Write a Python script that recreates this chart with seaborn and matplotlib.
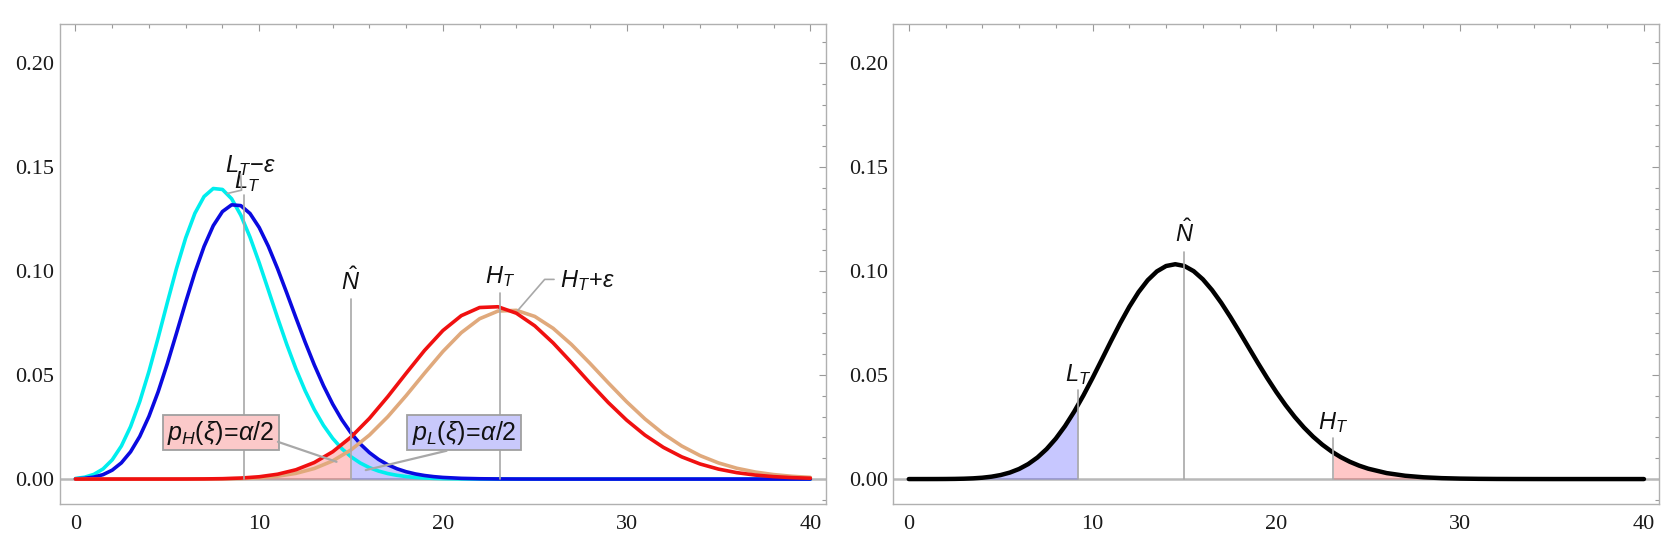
import numpy as np
import matplotlib.pyplot as plt
import matplotlib.patches as mpatches
from matplotlib.ticker import MultipleLocator, FormatStrFormatter
import seaborn as sns

sns.set_theme(style="white")
plt.rcParams["mathtext.fontset"] = "custom"
plt.rcParams["mathtext.it"] = "Liberation Sans:italic"
plt.rcParams["mathtext.rm"] = "Liberation Sans"
plt.rcParams["mathtext.bf"] = "Liberation Sans:bold"

# thresholds
L_T = 9.2
H_T = 23.1
N_HAT = 15.0

# left panel: curves for L_T - eps (cyan), L_T (blue), H_T (red), H_T + eps (tan)
x_narrow = np.concatenate([np.arange(0, 20.5, 0.5), np.arange(21, 41)])
cyan_vals = [0.000275, 0.000887, 0.002252, 0.004851, 0.009234, 0.015912, 0.025239, 0.037280,
             0.051740, 0.067932, 0.084853, 0.101281, 0.115966, 0.127770, 0.135846, 0.139695,
             0.139242, 0.134765, 0.126865, 0.116323, 0.104029, 0.090843, 0.077549, 0.064775,
             0.052992, 0.042492, 0.033426, 0.025810, 0.019578, 0.014596, 0.010703, 0.007722,
             0.005485, 0.003838, 0.002646, 0.001798, 0.001205, 0.000797, 0.000520, 0.000335,
             0.000213,
             0.000083, 0.000031, 0.000011, 0, 0, 0, 0, 0, 0, 0, 0, 0, 0, 0, 0, 0, 0, 0, 0, 0]
blue_vals = [0.000101, 0.000346, 0.000930, 0.002121, 0.004276, 0.007805, 0.013113, 0.020517,
             0.030160, 0.041946, 0.055494, 0.070164, 0.085091, 0.099309, 0.111834, 0.121819,
             0.128609, 0.131851, 0.131467, 0.127687, 0.120950, 0.111878, 0.101158, 0.089502,
             0.077555, 0.065874, 0.054885, 0.044892, 0.036067, 0.028483, 0.022121, 0.016906,
             0.012720, 0.009426, 0.006884, 0.004956, 0.003518, 0.002464, 0.001704, 0.001163,
             0.000784,
             0.000343, 0.000144, 0.000057, 0.000022, 0.000008, 0, 0, 0, 0, 0, 0, 0, 0, 0, 0,
             0, 0, 0, 0, 0]

x_wide = np.arange(0, 41)
red_vals = [0, 0, 0, 0, 0.000001, 0.000005, 0.000020, 0.000065, 0.000187, 0.000479,
            0.001107, 0.002324, 0.004474, 0.007950, 0.013117, 0.020200, 0.029163, 0.039627,
            0.050855, 0.061829, 0.071412, 0.078553, 0.082481, 0.082840, 0.079734, 0.073674,
            0.065457, 0.056002, 0.046202, 0.036802, 0.028338, 0.021116, 0.015243, 0.010670,
            0.007249, 0.004785, 0.003070, 0.001917, 0.001165, 0.000690, 0.000399]
tan_vals = [0, 0, 0, 0, 0, 0, 0.000009, 0.000032, 0.000096, 0.000258,
            0.000622, 0.001363, 0.002737, 0.005074, 0.008734, 0.014033, 0.021138, 0.029966,
            0.040121, 0.050890, 0.061323, 0.070375, 0.077093, 0.080780, 0.081117, 0.078197,
            0.072483, 0.064698, 0.055687, 0.046278, 0.037177, 0.028902, 0.021767, 0.015896,
            0.011268, 0.007759, 0.005194, 0.003383, 0.002146, 0.001326, 0.000799]

# right panel: curve for N-hat
x_mid = np.concatenate([np.arange(0, 25.5, 0.5), np.arange(26, 41)])
black_vals = [0.0000003, 0.0000013, 0.0000046, 0.0000134, 0.0000344, 0.0000802, 0.000172,
              0.000344, 0.000645, 0.001146, 0.001936, 0.003125, 0.004840, 0.007212, 0.010371,
              0.014424, 0.019445, 0.025453, 0.032409, 0.040190, 0.048613, 0.057414, 0.066290,
              0.074887, 0.082863, 0.089865, 0.095611, 0.099850, 0.102436, 0.103293, 0.102436,
              0.099961, 0.096034, 0.090874, 0.084736, 0.077892, 0.070613, 0.063155, 0.055747,
              0.048581, 0.041810, 0.035547, 0.029865, 0.024800, 0.020362, 0.016534, 0.013280,
              0.010553, 0.008300, 0.006461, 0.004980,
              0.002873, 0.001596, 0.000855, 0.000442, 0.000221, 0.000107, 0.000050, 0.000023,
              0.000010, 0, 0, 0, 0, 0, 0]

cyan_vals = np.array(cyan_vals)
blue_vals = np.array(blue_vals)
red_vals = np.array(red_vals)
tan_vals = np.array(tan_vals)
black_vals = np.array(black_vals)

GRAY = "#a8a8a8"
PINK = "#ff0000"
LAV = "#0000ff"


def tail(x, y, lo, hi):
    m = (x > lo) & (x < hi)
    xs = np.concatenate([[lo], x[m], [hi]])
    ys = np.concatenate([[np.interp(lo, x, y)], y[m], [np.interp(hi, x, y)]])
    return xs, ys


def style(ax):
    ax.set_xlim(-0.84, 40.84)
    ax.set_ylim(-0.0118, 0.2188)
    ax.xaxis.set_major_locator(MultipleLocator(10))
    ax.xaxis.set_minor_locator(MultipleLocator(2))
    ax.yaxis.set_major_locator(MultipleLocator(0.05))
    ax.yaxis.set_minor_locator(MultipleLocator(0.01))
    ax.yaxis.set_major_formatter(FormatStrFormatter("%.2f"))
    ax.xaxis.set_major_formatter(FormatStrFormatter("%d"))
    ax.tick_params(which="both", direction="in", top=True, right=True,
                   color="#999999", width=0.8, labelsize=16, labelcolor="#1a1a1a",
                   labelfontfamily="Liberation Serif")
    ax.tick_params(which="major", length=5)
    ax.tick_params(which="minor", length=3)
    ax.tick_params(axis="y", pad=4)
    ax.tick_params(axis="x", pad=8)
    for s in ax.spines.values():
        s.set_color("#b0b0b0")
        s.set_linewidth(1.0)
    ax.axhline(0, color="#b8b8b8", lw=1.8, zorder=1)
    ax.set_xlabel("")
    ax.set_ylabel("")


def label(ax, x, y, s):
    ax.text(x, y, s, ha="center", va="baseline", fontsize=17, color="#111111", zorder=6)


fig = plt.figure(figsize=(16.77, 5.49), dpi=100)
ax1 = fig.add_axes([0.0358, 0.0827, 0.4566, 0.8736])
ax2 = fig.add_axes([0.5327, 0.0827, 0.4568, 0.8736])

# ---- left panel ----
xs, ys = tail(x_wide.astype(float), red_vals, 0, N_HAT)
ax1.fill_between(xs, 0, ys, color=PINK, alpha=0.22, lw=0, zorder=1.2)
xs, ys = tail(x_narrow, blue_vals, N_HAT, 40)
ax1.fill_between(xs, 0, ys, color=LAV, alpha=0.22, lw=0, zorder=1.2)

sns.lineplot(x=x_narrow, y=cyan_vals, ax=ax1, color="#00eeee", lw=2.6, sort=False, zorder=3)
sns.lineplot(x=x_narrow, y=blue_vals, ax=ax1, color="#0a0ae0", lw=2.6, sort=False, zorder=3)
sns.lineplot(x=x_wide, y=tan_vals, ax=ax1, color="#e0a97c", lw=2.6, sort=False, zorder=3)
sns.lineplot(x=x_wide, y=red_vals, ax=ax1, color="#f01010", lw=2.6, sort=False, zorder=3)

ax1.plot([L_T, L_T], [0, 0.1365], color=GRAY, lw=1.2, zorder=4)
ax1.plot([N_HAT, N_HAT], [0, 0.0865], color=GRAY, lw=1.2, zorder=4)
ax1.plot([H_T, H_T], [0, 0.0894], color=GRAY, lw=1.2, zorder=4)

label(ax1, 9.35, 0.1400, r"$L_T$")
label(ax1, 9.54, 0.1477, r"$L_T\!-\!\varepsilon$")
ax1.plot([8.99, 9.04, 8.26], [0.1465, 0.1389, 0.1373], color=GRAY, lw=1.2, zorder=6)
label(ax1, N_HAT, 0.0909, r"$\hat{N}$")
label(ax1, H_T, 0.0942, r"$H_T$")
label(ax1, 27.9, 0.0925, r"$H_T\!+\!\varepsilon$")
ax1.plot([26.05, 25.54, 24.09], [0.096, 0.096, 0.0812], color=GRAY, lw=1.2, zorder=6)

# callout boxes
ax1.add_patch(mpatches.Rectangle((4.77, 0.0139), 6.33, 0.0169, facecolor="#fbc9c9",
                                 edgecolor="#a0a0a0", lw=1.3, zorder=5))
ax1.text(7.93, 0.0220, r"$p_H(\xi)\!=\!\alpha/2$", ha="center", va="center",
         fontsize=18, color="#111111", zorder=6)
ax1.plot([11.02, 14.21], [0.0179, 0.0083], color=GRAY, lw=1.6, zorder=5)

ax1.add_patch(mpatches.Rectangle((18.07, 0.0139), 6.2, 0.0169, facecolor="#c9c9fb",
                                 edgecolor="#a0a0a0", lw=1.3, zorder=5))
ax1.text(21.17, 0.0220, r"$p_L(\xi)\!=\!\alpha/2$", ha="center", va="center",
         fontsize=18, color="#111111", zorder=6)
ax1.plot([20.2, 15.8], [0.0136, 0.0043], color=GRAY, lw=1.6, zorder=5)

style(ax1)

# ---- right panel ----
xs, ys = tail(x_mid, black_vals, 0, L_T)
ax2.fill_between(xs, 0, ys, color=LAV, alpha=0.22, lw=0, zorder=1.2)
xs, ys = tail(x_mid, black_vals, H_T, 40)
ax2.fill_between(xs, 0, ys, color=PINK, alpha=0.22, lw=0, zorder=1.2)

sns.lineplot(x=x_mid, y=black_vals, ax=ax2, color="black", lw=3.2, sort=False, zorder=3)

ax2.plot([L_T, L_T], [0, 0.0428], color=GRAY, lw=1.2, zorder=4)
ax2.plot([N_HAT, N_HAT], [0, 0.109], color=GRAY, lw=1.2, zorder=4)
ax2.plot([H_T, H_T], [0, 0.0196], color=GRAY, lw=1.2, zorder=4)
label(ax2, L_T, 0.0473, r"$L_T$")
label(ax2, N_HAT, 0.114, r"$\hat{N}$")
label(ax2, H_T, 0.0239, r"$H_T$")

style(ax2)

fig.savefig("out.png", dpi=100)
